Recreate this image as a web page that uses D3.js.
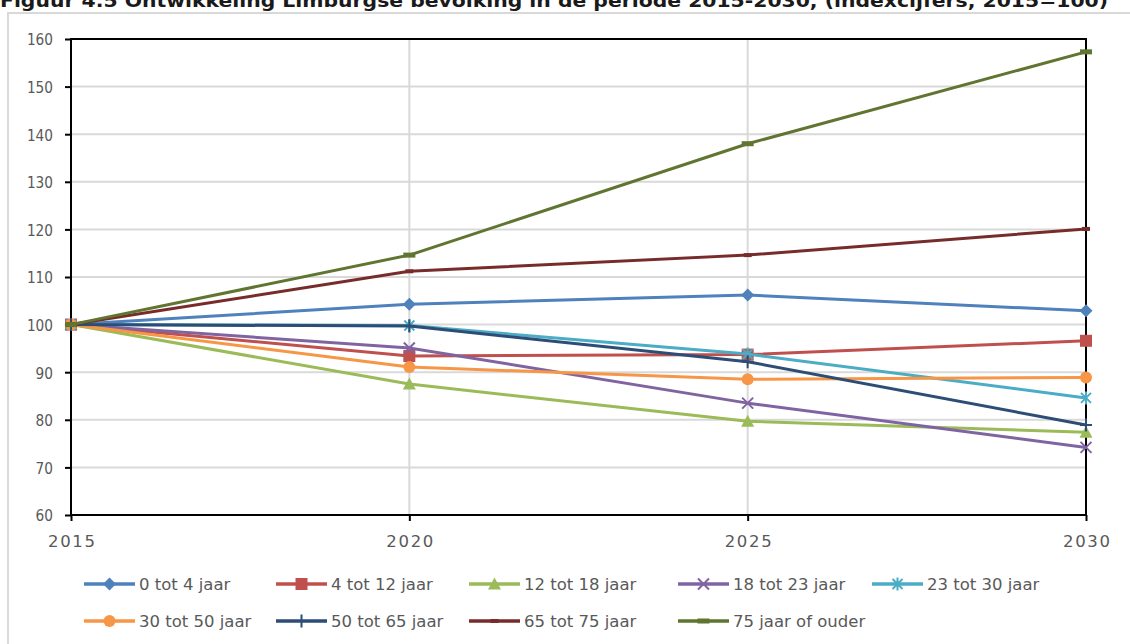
<!DOCTYPE html>
<html><head><meta charset="utf-8">
<script src="https://cdn.jsdelivr.net/npm/d3@7"></script>
<style>
html,body{margin:0;padding:0;background:#fff;overflow:hidden}
svg{display:block}
text{font-family:"DejaVu Sans",sans-serif}
</style></head>
<body>
<svg id="c" width="1130" height="644"></svg>
<script>
const title = "Figuur 4.5 Ontwikkeling Limburgse bevolking in de periode 2015-2030, (indexcijfers, 2015=100)";
const years = [2015, 2020, 2025, 2030];
const yTicks = [60, 70, 80, 90, 100, 110, 120, 130, 140, 150, 160];
const seriesNames = ["0 tot 4 jaar","4 tot 12 jaar","12 tot 18 jaar","18 tot 23 jaar","23 tot 30 jaar","30 tot 50 jaar","50 tot 65 jaar","65 tot 75 jaar","75 jaar of ouder"];
const s0_4   = [100, 104.3, 106.2, 102.9];
const s4_12  = [100, 93.4, 93.7, 96.6];
const s12_18 = [100, 87.5, 79.7, 77.4];
const s18_23 = [100, 95.1, 83.5, 74.2];
const s23_30 = [100, 99.8, 93.8, 84.6];
const s30_50 = [100, 91.1, 88.5, 88.9];
const s50_65 = [100, 99.7, 92.2, 78.9];
const s65_75 = [100, 111.2, 114.6, 120.1];
const s75p   = [100, 114.6, 138.0, 157.3];
const seriesValues = [s0_4, s4_12, s12_18, s18_23, s23_30, s30_50, s50_65, s65_75, s75p];
const colors = ["#4F81BD","#C0504D","#9BBB59","#8064A2","#4BACC6","#F79646","#2C4D75","#772C2A","#5F7530"];
const markers = ["diamond","square","triangle","x","star","circle","plus","dash","dashL"];

const svg = d3.select("#c");
const L = 71, R = 1086, T = 39, B = 515;
const x = d3.scaleLinear().domain([2015, 2030]).range([L, R]);
const y = d3.scaleLinear().domain([60, 160]).range([B, T]);

// outer chart frame
svg.append("rect").attr("x", 8).attr("y", 13).attr("width", 1140).attr("height", 660)
  .attr("fill", "none").attr("stroke", "#d9d9d9").attr("stroke-width", 2);

// title (clipped at top, as in the source figure)
svg.append("text").attr("x", 0).attr("y", 7).attr("font-size", 17).attr("font-weight", "bold")
  .attr("fill", "#1a1a1a").attr("textLength", 1108).attr("lengthAdjust", "spacingAndGlyphs").text(title);

// gridlines
svg.append("g").selectAll("line").data(yTicks.filter(d => d > 60 && d < 160)).join("line")
  .attr("x1", L).attr("x2", R).attr("y1", d => y(d)).attr("y2", d => y(d))
  .attr("stroke", "#d9d9d9").attr("stroke-width", 2);
svg.append("g").selectAll("line").data(years.filter(d => d > 2015 && d < 2030)).join("line")
  .attr("y1", T).attr("y2", B).attr("x1", d => x(d)).attr("x2", d => x(d))
  .attr("stroke", "#d9d9d9").attr("stroke-width", 2);

// axes
const yAxis = d3.axisLeft(y).tickValues(yTicks).tickSize(6).tickPadding(12).tickFormat(d3.format("d"));
const gy = svg.append("g").attr("transform", `translate(${L},0)`).call(yAxis);
gy.select(".domain").remove();
gy.selectAll(".tick line").attr("stroke", "#000").attr("stroke-width", 2);
gy.selectAll(".tick text").attr("font-size", 16.5).attr("fill", "#595959").attr("font-family", "DejaVu Sans")
  .attr("dy", "0.36em").attr("textLength", 26).attr("lengthAdjust", "spacingAndGlyphs")
  .attr("textLength", d => String(d).length * 8.7);

const xAxis = d3.axisBottom(x).tickValues(years).tickSize(6).tickPadding(14).tickFormat(d3.format("d"));
const gx = svg.append("g").attr("transform", `translate(0,${B})`).call(xAxis);
gx.select(".domain").remove();
gx.selectAll(".tick line").attr("stroke", "#000").attr("stroke-width", 2);
gx.selectAll(".tick text").attr("font-size", 16.5).attr("fill", "#595959").attr("font-family", "DejaVu Sans")
  .attr("textLength", 47).attr("lengthAdjust", "spacing");

// plot border
svg.append("rect").attr("x", L).attr("y", T).attr("width", R - L).attr("height", B - T)
  .attr("fill", "none").attr("stroke", "#000").attr("stroke-width", 2);

function drawMarker(g, type, color, cx, cy) {
  const s = g.append("g").attr("transform", `translate(${cx},${cy})`);
  switch (type) {
    case "diamond": s.append("path").attr("d", "M0,-6.5L6.5,0L0,6.5L-6.5,0Z").attr("fill", color); break;
    case "square": s.append("rect").attr("x", -6).attr("y", -6).attr("width", 12).attr("height", 12).attr("fill", color); break;
    case "triangle": s.append("path").attr("d", "M0,-6.5L6.5,5.5L-6.5,5.5Z").attr("fill", color); break;
    case "circle": s.append("circle").attr("r", 6).attr("fill", color); break;
    case "x": s.append("path").attr("d", "M-5.5,-5.5L5.5,5.5M-5.5,5.5L5.5,-5.5").attr("stroke", color).attr("stroke-width", 2); break;
    case "star": s.append("path").attr("d", "M-5,-5L5,5M-5,5L5,-5M0,-6.5L0,6.5").attr("stroke", color).attr("stroke-width", 2); break;
    case "plus": s.append("path").attr("d", "M0,-6.5L0,6.5M-6,0L6,0").attr("stroke", color).attr("stroke-width", 2); break;
    case "dash": s.append("rect").attr("x", -4).attr("y", -2).attr("width", 8).attr("height", 4).attr("fill", color); break;
    case "dashL": s.append("rect").attr("x", -6).attr("y", -2.5).attr("width", 12).attr("height", 5).attr("fill", color); break;
  }
}

const line = d3.line().x((d, i) => x(years[i])).y(d => y(d));
const plot = svg.append("g");
seriesValues.forEach((vals, k) => {
  const g = plot.append("g");
  g.append("path").datum(vals).attr("d", line).attr("fill", "none")
    .attr("stroke", colors[k]).attr("stroke-width", 3).attr("stroke-linejoin", "round");
  vals.forEach((v, i) => drawMarker(g, markers[k], colors[k], x(years[i]), y(v)));
});

// legend
const legX = [84, 276, 469, 678, 872];
const legY = [584, 621];
const leg = svg.append("g");
seriesNames.forEach((name, k) => {
  const row = k < 5 ? 0 : 1, col = k < 5 ? k : k - 5;
  const lx = legX[col], ly = legY[row];
  const g = leg.append("g");
  g.append("line").attr("x1", lx).attr("x2", lx + 51).attr("y1", ly).attr("y2", ly)
    .attr("stroke", colors[k]).attr("stroke-width", 3.5);
  drawMarker(g, markers[k], colors[k], lx + 25.5, ly);
  g.append("text").attr("x", lx + 55).attr("y", ly).attr("dy", "0.36em").attr("font-size", 16.5)
    .attr("fill", "#595959").text(name);
});
</script>
</body></html>
